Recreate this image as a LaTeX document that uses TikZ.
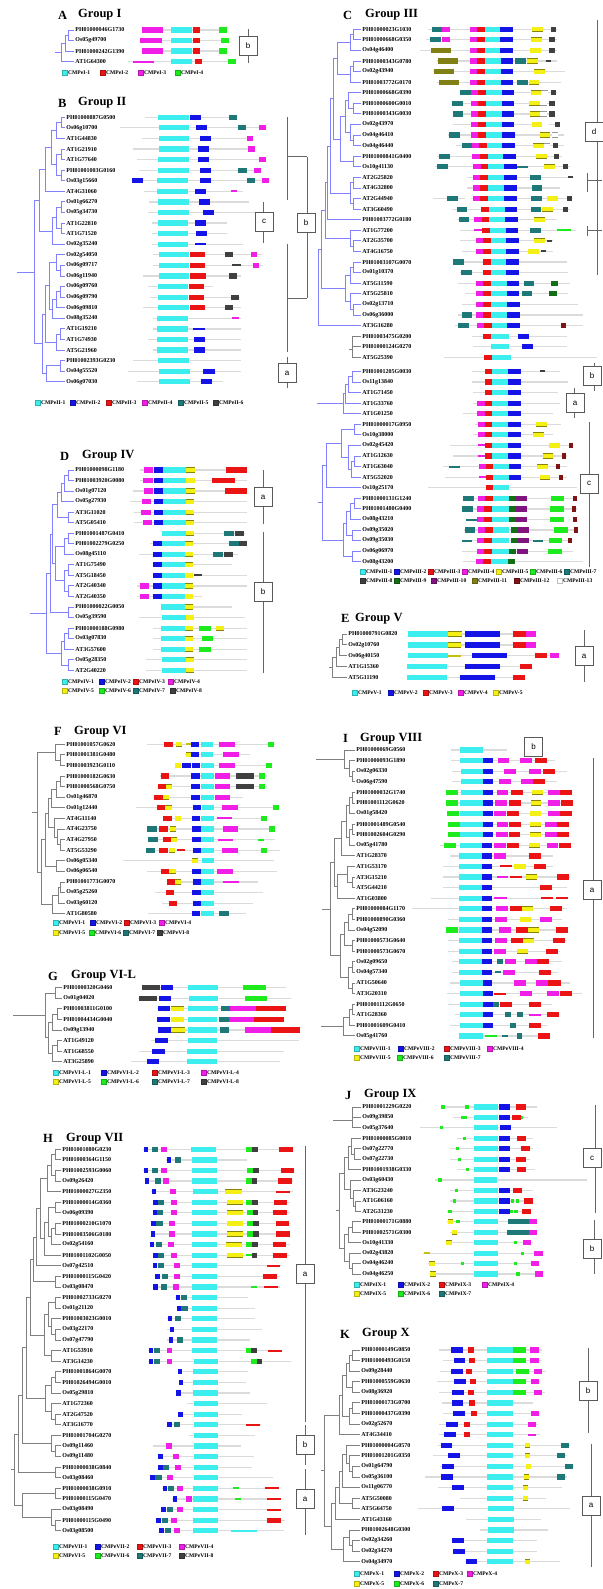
\documentclass[tikz,border=0pt]{standalone}
\usepackage{fontspec}
\setmainfont{Liberation Serif}
\setsansfont{Liberation Sans}
\usetikzlibrary{calc}
\definecolor{cC}{RGB}{60,238,238}
\definecolor{cB}{RGB}{20,20,230}
\definecolor{cR}{RGB}{235,20,20}
\definecolor{cM}{RGB}{240,30,230}
\definecolor{cG}{RGB}{30,235,30}
\definecolor{cT}{RGB}{30,120,120}
\definecolor{cK}{RGB}{64,64,64}
\definecolor{cY}{RGB}{245,240,20}
\definecolor{cO}{RGB}{128,128,20}
\definecolor{cD}{RGB}{20,110,20}
\definecolor{cP}{RGB}{128,20,128}
\definecolor{cN}{RGB}{128,20,20}
\definecolor{cW}{RGB}{255,255,255}
\definecolor{cTr}{RGB}{130,130,255}
\tikzset{
 gline/.style={draw=black!14,line width=1.2pt},
 lab/.style={anchor=west,inner sep=0.4pt,outer sep=1pt,font=\fontsize{6}{6}\selectfont\bfseries},
 trb/.style={draw=cTr,line width=0.9pt},
 trg/.style={draw=black!50,line width=0.9pt},
 brk/.style={draw=black!60,line width=1pt},
 bbox/.style={draw=black!65,fill=white,line width=0.8pt,minimum width=18pt,minimum height=19pt,inner sep=0pt,font=\sffamily\fontsize{8}{8}\selectfont},
 ttl/.style={anchor=west,inner sep=0pt,font=\fontsize{12.5}{13}\selectfont\bfseries},
 lsq/.style={minimum size=5.2pt,inner sep=0pt,line width=0.3pt},
 ltx/.style={anchor=west,inner sep=0.3pt,font=\fontsize{5.6}{6}\selectfont\bfseries},
 mc/.style={draw=cC,line width=5.2pt},
 mb/.style={draw=cB,line width=5.2pt},
 mr/.style={draw=cR,line width=5.2pt},
 mm/.style={draw=cM,line width=5.2pt},
 mg/.style={draw=cG,line width=5.2pt},
 mt/.style={draw=cT,line width=5.2pt},
 mk/.style={draw=cK,line width=5.2pt},
 my/.style={draw=cY!55!black,line width=0.5pt,double=cY,double distance=4.2pt},
 mo/.style={draw=cO,line width=5.2pt},
 md/.style={draw=cD,line width=5.2pt},
 mp/.style={draw=cP,line width=5.2pt},
 mn/.style={draw=cN,line width=5.2pt},
 mw/.style={draw=black!40,line width=0.5pt,double=white,double distance=4.2pt},
 mC/.style={draw=cC,line width=2pt},
 mB/.style={draw=cB,line width=2pt},
 mR/.style={draw=cR,line width=2pt},
 mM/.style={draw=cM,line width=2pt},
 mG/.style={draw=cG,line width=2pt},
 mT/.style={draw=cT,line width=2pt},
 mK/.style={draw=cK,line width=2pt},
 mY/.style={draw=cY!80!black,line width=2pt},
 ms/.style={draw=cG,line width=3.2pt},
}
\newcommand\G[6]{%
 \pgfmathsetmacro\curY{\rowY+#2*\rowD}%
 \draw[gline] (#4,\curY) -- (#5,\curY);%
 \foreach \mcol/\ma/\mb in {#6}{\edef\mtmp{\noexpand\draw[m\mcol]}\mtmp (\ma,\curY) -- (\mb,\curY);}%
 \node[lab] (#1) at (\labX,\curY) {#3};}
\newcommand\jn[5]{\coordinate (jx) at (#3,0);\draw[#1] (#4) -- (#4 -| jx) -- (#5 -| jx) -- (#5);\coordinate (#2) at ($(#4 -| jx)!.5!(#5 -| jx)$);}
\newcommand\stub[4]{\coordinate (jx) at (#3,0);\coordinate (#4) at (#2 -| jx);\draw[#1] (#2) -- (#4);}
\newcommand\legd[5]{\node[lsq,fill=#4,draw=#4!75!black] (#1s) at (#2+2.6,#3) {};\node[ltx] (#1) at (#2+5.6,#3) {#5};}
\begin{document}
\begin{tikzpicture}[x=1pt,y=-1pt]
\fill[white] (0,0) rectangle (602,1589);
\useasboundingbox (0,0) rectangle (602,1589);
% ================= A
\node[ttl] (TA) at (58,15) {A};\node[ttl] (TA2) at (78,15) {Group I};
\def\labX{74}\def\rowY{30}\def\rowD{10.55}
\G{A0}{0}{PH01000046G1730}{142}{227}{m/142/163,c/171/192,r/193/200,g/219/227}
\G{A1}{1}{Os05g49700}{140}{229}{m/140/162,c/171/192,r/193/200,g/221/229}
\G{A2}{2}{PH01000242G1390}{142}{227}{m/142/163,c/171/192,r/193/200,g/219/227}
\G{A3}{3}{AT1G64300}{128}{236}{M/133/154,c/171/192,r/195/202,g/228/236}
\jn{trb}{Aj1}{68}{A0}{A1}
\jn{trb}{Aj2}{65}{Aj1}{A2}
\jn{trb}{Aj3}{61}{Aj2}{A3}
\stub{trb}{Aj3}{55}{Ars}
\draw[brk] (248,29) -- (248,63); \node[bbox] (Ab) at (248,46) {b};
\legd{Al1}{62}{72.7}{cC}{CMPeI-1}\legd{Al2}{100}{72.7}{cR}{CMPeI-2}\legd{Al3}{138}{72.7}{cM}{CMPeI-3}\legd{Al4}{175}{72.7}{cG}{CMPeI-4}
% ================= B
\node[ttl] (TB) at (58,103) {B};\node[ttl] (TB2) at (78,103) {Group II};
\def\labX{65}\def\rowY{117.3}\def\rowD{10.58}
\G{B0}{0}{PH01000887G0500}{145}{237}{c/158/189,b/190/201,t/229/237}
\G{B1}{1}{Os06g10700}{120}{267}{c/159/189,b/196/207,t/238/246,m/259/266}
\G{B2}{2}{AT1G44830}{142}{253}{c/159/189,b/200/211,m/247/253}
\G{B3}{3}{AT1G21910}{133}{255}{c/159/189,b/198/209,m/248/255}
\G{B4}{4}{AT1G77640}{137}{266}{c/158/189,b/198/209,m/259/266}
\G{B5}{5}{PH01001003G0160}{139}{261}{c/158/189,b/200/211,t/238/247,m/254/261}
\G{B6}{6}{Os03g15660}{132}{269}{b/132/143,c/157/188,b/200/211,t/247/255,m/262/269}
\G{B7}{7}{AT4G31060}{144}{243}{c/157/188,b/195/206,M/231/237}
\G{B8}{8}{Os01g66270}{149}{249}{c/158/189,b/199/210}
\G{B9}{9}{Os05g34730}{148}{255}{c/158/189,b/203/214}
\G{B10}{10}{AT1G22810}{152}{227}{c/158/188,b/195/206}
\G{B11}{11}{AT1G71520}{152}{227}{c/158/188,b/196/207}
\G{B12}{12}{Os02g35240}{152}{243}{c/158/188,B/195/206}
\G{B13}{13}{Os02g54050}{153}{262}{c/159/189,r/190/205,k/225/233,m/251/257}
\G{B14}{14}{Os06g09717}{153}{263}{c/159/189,r/190/205,K/232/241,m/253/259}
\G{B15}{15}{Os06g11940}{143}{241}{c/159/189,r/190/206,k/229/237}
\G{B16}{16}{Os06g09760}{148}{213}{c/158/188,r/189/204}
\G{B17}{17}{Os06g09790}{150}{240}{c/158/188,r/189/204,k/231/239}
\G{B18}{18}{Os06g09810}{143}{241}{c/158/189,r/190/205,k/225/233}
\G{B19}{19}{Os08g35240}{153}{241}{c/157/188,M/232/239}
\G{B20}{20}{AT1G19210}{153}{241}{c/157/188,B/193/205}
\G{B21}{21}{AT1G74930}{148}{241}{c/157/188,b/194/205}
\G{B22}{22}{AT5G21960}{153}{241}{c/157/188,b/194/205}
\G{B23}{23}{PH01002393G0230}{133}{241}{c/158/189}
\G{B24}{24}{Os04g55520}{128}{241}{c/159/190,b/203/215}
\G{B25}{25}{Os06g07030}{137}{223}{c/159/190,b/201/212}
\jn{trb}{Bj1}{61}{B0}{B1}
\jn{trb}{Bj2}{56}{Bj1}{B2}
\jn{trb}{Bj3}{61}{B3}{B4}
\jn{trb}{Bj4}{61}{B5}{B6}
\jn{trb}{Bj5}{56}{Bj3}{Bj4}
\jn{trb}{Bj6}{51}{Bj2}{Bj5}
\jn{trb}{Bj7}{45}{Bj6}{B7}
\jn{trb}{Bj8}{61}{B8}{B9}
\jn{trb}{Bj9}{61}{B10}{B11}
\jn{trb}{Bj10}{56}{Bj8}{Bj9}
\jn{trb}{Bj11}{52}{Bj10}{B12}
\jn{trb}{Bj12}{39}{Bj7}{Bj11}
\jn{trb}{Bk1}{60}{B14}{B15}
\jn{trb}{Bk2}{56}{B13}{Bk1}
\jn{trb}{Bk3}{60}{B16}{B17}
\jn{trb}{Bk4}{56}{Bk3}{B18}
\jn{trb}{Bk5}{52}{Bk4}{B19}
\jn{trb}{Bk6}{49}{Bk2}{Bk5}
\jn{trb}{Bk7}{60}{B20}{B21}
\jn{trb}{Bk8}{56}{Bk7}{B22}
\jn{trb}{Bk9}{45}{Bk6}{Bk8}
\jn{trb}{Bk10}{60}{B23}{B24}
\jn{trb}{Bk11}{46}{Bk10}{B25}
\jn{trb}{Bk12}{42}{Bk9}{Bk11}
\jn{trb}{Br}{34}{Bj12}{Bk12}
\stub{trb}{Br}{17}{Brs}
\draw[brk] (287,117) -- (287,200); \draw[brk] (287,157) -- (307,157);
\draw[brk] (263,202) -- (263,243); \node[bbox] (Bc) at (264,221.5) {c};
\draw[brk] (287,244) -- (287,352); \draw[brk] (287,298) -- (307,298);
\draw[brk] (307,157) -- (307,298); \node[bbox] (Bb) at (306,223) {b};
\draw[brk] (287,357) -- (287,388); \node[bbox] (Ba) at (287,373) {a};
\legd{Bl1}{35}{402.7}{cC}{CMPeII-1}\legd{Bl2}{70}{402.7}{cB}{CMPeII-2}\legd{Bl3}{106}{402.7}{cR}{CMPeII-3}\legd{Bl4}{142}{402.7}{cM}{CMPeII-4}\legd{Bl5}{178}{402.7}{cT}{CMPeII-5}\legd{Bl6}{213}{402.7}{cK}{CMPeII-6}
% ================= D
\node[ttl] (TD) at (60,456) {D};\node[ttl] (TD2) at (82,456) {Group IV};
\def\labX{74}\def\rowY{470}\def\rowD{10.54}
\G{D0}{0}{PH01000098G1180}{140}{247}{m/144/153,b/154/163,c/163/186,y/186/195,r/226/247}
\G{D1}{1}{PH01003920G0080}{140}{247}{m/143/153,b/154/163,c/163/186,y/186/195,r/212/235}
\G{D2}{2}{Os01g07120}{133}{247}{m/144/153,b/154/163,c/163/186,y/186/195,r/225/247}
\G{D3}{3}{Os05g27930}{130}{247}{m/142/151,b/154/163,c/163/186,y/186/194}
\G{D4}{4}{AT3G11020}{134}{247}{m/141/151,b/154/163,c/163/186,y/186/194}
\G{D5}{5}{AT5G05410}{134}{247}{m/143/152,b/154/163,c/163/186,y/186/194}
\G{D6}{6}{PH01001487G0410}{162}{245}{c/162/186,y/186/194,t/224/234,k/235/244}
\G{D7}{7}{PH01002279G0250}{150}{247}{b/153/162,c/162/185,y/185/193,t/229/239,k/239/247}
\G{D8}{8}{Os08g45110}{139}{238}{b/153/162,c/162/185,y/185/193,t/213/223,k/224/233}
\G{D9}{9}{AT1G75490}{153}{232}{b/153/162,c/162/185,y/185/193}
\G{D10}{10}{AT5G18450}{153}{247}{b/153/162,c/162/185,y/185/193,K/194/202}
\G{D11}{11}{AT2G40340}{137}{247}{m/140/149,b/153/162,c/162/185,y/185/193}
\G{D12}{12}{AT2G40350}{137}{202}{m/140/149,b/153/162,c/162/185,y/185/193}
\G{D13}{13}{PH01000022G0050}{161}{232}{c/161/185,y/185/193}
\G{D14}{14}{Os05g39590}{139}{245}{c/162/186,y/186/194}
\G{D15}{15}{PH01000188G0980}{153}{247}{c/161/185,y/185/193,g/199/211,y/216/224}
\G{D16}{16}{Os03g07830}{153}{247}{c/161/185,y/185/193,g/202/213}
\G{D17}{17}{AT3G57600}{153}{247}{c/161/185,y/185/193,g/199/211}
\G{D18}{18}{Os05g28350}{146}{247}{c/162/186,y/186/194}
\G{D19}{19}{AT2G40220}{146}{247}{c/162/186,y/186/194}
\jn{trb}{Dj1}{68}{D0}{D1}
\jn{trb}{Dj2}{64}{Dj1}{D2}
\jn{trb}{Dj3}{61}{Dj2}{D3}
\jn{trb}{Dj4}{68}{D4}{D5}
\jn{trb}{Dj5}{57}{Dj3}{Dj4}
\jn{trb}{Dj6}{68}{D6}{D7}
\jn{trb}{Dj7}{64}{Dj6}{D8}
\jn{trb}{Dj8}{68}{D9}{D10}
\jn{trb}{Dj9}{68}{D11}{D12}
\jn{trb}{Dj10}{64}{Dj8}{Dj9}
\jn{trb}{Dj11}{55}{Dj7}{Dj10}
\jn{trb}{Dj12}{52}{Dj5}{Dj11}
\jn{trb}{Dj13}{68}{D13}{D14}
\jn{trb}{Dj14}{50}{Dj12}{Dj13}
\jn{trb}{Dj15}{68}{D15}{D16}
\jn{trb}{Dj16}{64}{Dj15}{D17}
\jn{trb}{Dj17}{68}{D18}{D19}
\jn{trb}{Dj18}{61}{Dj16}{Dj17}
\jn{trb}{Dr}{46}{Dj14}{Dj18}
\stub{trb}{Dr}{30}{Drs}
\draw[brk] (263,470) -- (263,524); \node[bbox] (Da) at (263,497) {a};
\draw[brk] (263,532) -- (263,673); \node[bbox] (Db) at (263,592) {b};
\legd{Dl1}{62}{681.7}{cC}{CMPeIV-1}\legd{Dl2}{99}{681.7}{cB}{CMPeIV-2}\legd{Dl3}{133}{681.7}{cR}{CMPeIV-3}\legd{Dl4}{168}{681.7}{cM}{CMPeIV-4}
\legd{Dl5}{62}{691}{cY}{CMPeIV-5}\legd{Dl6}{99}{691}{cG}{CMPeIV-6}\legd{Dl7}{133}{691}{cT}{CMPeIV-7}\legd{Dl8}{170}{691}{cK}{CMPeIV-8}
% ================= F
\node[ttl] (TF) at (54,731.7) {F};\node[ttl] (TF2) at (74,731.7) {Group VI};
\def\labX{65}\def\rowY{744.3}\def\rowD{10.59}
\G{F0}{0}{PH01001057G0620}{147}{275}{r/164/173,y/176/182,Y/186/191,b/191/199,c/201/213,m/219/235,g/268/274}
\G{F1}{1}{PH01001381G0480}{185}{250}{y/186/191,b/191/199,c/201/213,m/223/239}
\G{F2}{2}{PH01003923G0110}{175}{272}{y/175/181,b/182/191,b/192/200,c/201/214,m/219/235,g/266/272}
\G{F3}{3}{PH01000182G0630}{160}{267}{r/161/169,b/191/200,c/201/214,m/215/230,k/236/254,g/259/265}
\G{F4}{4}{PH01000568G0750}{157}{267}{r/158/166,y/166/172,b/191/200,c/201/214,m/215/230,k/236/254,g/259/265}
\G{F5}{5}{Os01g46870}{153}{243}{r/154/163,y/163/169,b/191/200,c/201/214,m/215/230}
\G{F6}{6}{Os01g12440}{136}{279}{r/157/165,y/165/172,b/193/201,c/202/214,m/222/238,g/273/279}
\G{F7}{7}{AT4G11140}{163}{267}{r/163/172,y/175/181,b/192/200,c/201/214,M/217/232,g/261/267}
\G{F8}{8}{AT4G23750}{147}{275}{t/147/157,r/159/168,y/170/176,b/192/201,c/201/214,m/223/238,g/269/275}
\G{F9}{9}{AT4G27950}{148}{275}{t/148/158,r/163/171,y/171/177,b/192/201,c/201/214,M/218/233,G/258/264}
\G{F10}{10}{AT5G53290}{146}{280}{t/146/155,r/159/168,y/169/175,R/177/185,b/193/201,c/201/214,m/222/238,g/261/267}
\G{F11}{11}{Os06g05340}{123}{274}{y/192/198,c/202/214}
\G{F12}{12}{Os06g06540}{147}{277}{r/161/169,y/169/176,b/192/201,c/201/214,m/217/233}
\G{F13}{13}{PH01001773G0070}{167}{258}{r/167/175,y/175/181,b/193/201,c/201/214,M/223/239}
\G{F14}{14}{Os05g25260}{155}{263}{r/166/174,b/192/201,c/201/214}
\G{F15}{15}{Os03g60120}{162}{253}{r/169/177,b/193/201,c/201/214}
\G{F16}{16}{AT1G80580}{148}{246}{b/192/200,c/201/214,t/219/229}
\jn{trg}{Fj1}{60}{F1}{F2}
\jn{trg}{Fj2}{55}{F0}{Fj1}
\jn{trg}{Fj3}{60}{F3}{F4}
\jn{trg}{Fj4}{56}{Fj3}{F5}
\jn{trg}{Fj5}{51}{Fj4}{F6}
\jn{trg}{Fj6}{60}{F9}{F10}
\jn{trg}{Fj7}{57}{F8}{Fj6}
\jn{trg}{Fj8}{54}{F7}{Fj7}
\jn{trg}{Fj9}{48}{Fj5}{Fj8}
\jn{trg}{Fj10}{56}{F11}{F12}
\jn{trg}{Fj11}{45}{Fj9}{Fj10}
\jn{trg}{Fj12}{60}{F13}{F14}
\jn{trg}{Fj13}{58}{Fj12}{F15}
\jn{trg}{Fj14}{52}{Fj13}{F16}
\jn{trg}{Fj15}{41}{Fj11}{Fj14}
\jn{trg}{Fr}{37}{Fj2}{Fj15}
\stub{trg}{Fr}{32}{Frs}
\legd{Fl1}{53}{923}{cC}{CMPeVI-1}\legd{Fl2}{90}{923}{cB}{CMPeVI-2}\legd{Fl3}{124}{923}{cR}{CMPeVI-3}\legd{Fl4}{159}{923}{cM}{CMPeVI-4}
\legd{Fl5}{53}{932.7}{cY}{CMPeVI-5}\legd{Fl6}{89}{932.7}{cG}{CMPeVI-6}\legd{Fl7}{123}{932.7}{cT}{CMPeVI-7}\legd{Fl8}{157}{932.7}{cK}{CMPeVI-8}
% ================= G
\node[ttl] (TG) at (48,976) {G};\node[ttl] (TG2) at (71,976) {Group VI-L};
\def\labX{62}\def\rowY{987.7}\def\rowD{10.57}
\G{G0}{0}{PH01000320G0460}{142}{286}{k/142/160,b/161/173,c/188/218,g/243/266}
\G{G1}{1}{Os01g04020}{138}{291}{k/139/157,b/159/171,c/189/218,g/245/267}
\G{G2}{2}{PH01003811G0100}{157}{286}{b/158/170,y/171/184,c/188/218,t/221/230,m/230/256,r/256/286}
\G{G3}{3}{PH01004434G0040}{157}{284}{b/157/170,y/171/184,c/188/217,t/219/229,m/229/254,r/254/284}
\G{G4}{4}{Os09g13940}{158}{300}{b/158/171,y/171/185,c/188/217,t/220/229,m/245/271,r/271/300}
\G{G5}{5}{AT1G49120}{151}{299}{b/155/168,c/188/217}
\G{G6}{6}{AT1G68550}{139}{284}{b/152/165,c/187/217}
\G{G7}{7}{AT3G25890}{131}{280}{b/147/159,c/187/217}
\jn{trg}{Gj1}{55}{G0}{G1}
\jn{trg}{Gj2}{57}{G2}{G3}
\jn{trg}{Gj3}{52}{Gj2}{G4}
\jn{trg}{Gj4}{57}{G5}{G6}
\jn{trg}{Gj5}{52}{Gj4}{G7}
\jn{trg}{Gj6}{48}{Gj3}{Gj5}
\jn{trg}{Gr}{45}{Gj1}{Gj6}
\stub{trg}{Gr}{13}{Grs}
\legd{Gl1}{53}{1072.3}{cC}{CMPeVI-L-1}\legd{Gl2}{101}{1072.3}{cB}{CMPeVI-L-2}\legd{Gl3}{152}{1072.3}{cR}{CMPeVI-L-3}\legd{Gl4}{201}{1072.3}{cM}{CMPeVI-L-4}
\legd{Gl5}{53}{1081.7}{cY}{CMPeVI-L-5}\legd{Gl6}{101}{1081.7}{cG}{CMPeVI-L-6}\legd{Gl7}{152}{1081.7}{cT}{CMPeVI-L-7}\legd{Gl8}{201}{1081.7}{cK}{CMPeVI-L-8}
% ================= H
\node[ttl] (TH) at (43,1138.3) {H};\node[ttl] (TH2) at (66,1138.3) {Group VII};
\def\labX{61}\def\rowY{1149.3}\def\rowD{10.594}
\G{H0}{0}{PH01001080G0230}{143}{293}{b/144/148,t/152/158,m/161/167,c/191/216,g/246/252,k/252/258,r/279/293}
\G{H1}{1}{PH01000364G1150}{166}{247}{b/167/171,t/175/181,c/192/217}
\G{H2}{2}{PH01002593G0060}{143}{295}{b/144/148,t/152/158,m/161/167,c/192/217,g/247/253,k/253/259,r/281/294}
\G{H3}{3}{Os09g26420}{145}{293}{b/145/149,t/155/161,m/163/169,c/192/217,g/246/252,k/252/257,r/278/292}
\G{H4}{4}{PH01000027G2350}{151}{293}{b/152/156,m/170/176,c/193/218,y/225/242,R/276/290}
\G{H5}{5}{PH01000014G0360}{153}{290}{b/153/158,t/158/164,m/171/177,c/192/217,y/227/243,g/246/252,k/252/258,r/274/287}
\G{H6}{6}{Os06g09390}{153}{290}{b/153/157,t/157/163,m/171/177,c/192/217,y/227/243,g/247/253,k/253/258,r/273/287}
\G{H7}{7}{PH01000210G1070}{151}{290}{b/151/156,t/156/163,m/169/175,c/192/217,y/227/243,g/247/253,k/253/259,r/276/289}
\G{H8}{8}{PH01003506G0180}{151}{290}{b/151/155,m/169/175,c/192/217,y/227/243,g/247/253,k/253/259,r/276/290}
\G{H9}{9}{Os02g54160}{150}{290}{b/150/154,t/156/162,m/168/174,c/192/217,y/226/242,g/246/252,k/252/258,r/273/286}
\G{H10}{10}{PH01001102G0050}{153}{290}{b/153/158,t/158/164,m/171/177,c/192/217,y/227/243,G/246/252,k/252/257,r/273/287}
\G{H11}{11}{Os07g42510}{153}{282}{b/153/157,t/158/164,m/174/180,c/192/217,R/267/280}
\G{H12}{12}{PH01000115G0420}{155}{280}{b/155/160,t/162/168,m/174/180,c/192/217,r/263/277}
\G{H13}{13}{Os03g08470}{153}{280}{b/153/158,t/161/167,m/173/179,c/192/217,G/251/257,R/264/278}
\G{H14}{14}{PH01002733G0270}{175}{248}{b/176/180,t/181/187,c/192/217}
\G{H15}{15}{Os01g21120}{177}{255}{b/177/181,t/181/188,c/192/217}
\G{H16}{16}{PH01003023G0010}{167}{255}{b/168/172,t/175/181,c/192/217}
\G{H17}{17}{Os03g22170}{167}{262}{b/170/174,c/192/217}
\G{H18}{18}{Os07g47790}{167}{250}{b/169/173,t/177/183,c/192/217}
\G{H19}{19}{AT1G53910}{148}{282}{b/149/153,t/154/160,m/167/172,c/192/217,g/246/251,k/251/257,R/268/282}
\G{H20}{20}{AT3G14230}{148}{291}{b/149/153,t/154/160,m/167/172,c/194/218,g/251/257,k/257/262}
\G{H21}{21}{PH01001864G0070}{178}{248}{b/178/182,c/193/218}
\G{H22}{22}{PH01026494G0010}{179}{246}{b/179/183,c/193/218}
\G{H23}{23}{Os05g29810}{176}{250}{b/176/181,c/193/218}
\G{H24}{24}{AT1G72360}{187}{267}{c/194/218}
\G{H25}{25}{AT2G47520}{178}{242}{b/178/183,c/194/218}
\G{H26}{26}{AT3G16770}{167}{261}{b/167/172,t/174/180,c/194/218,R/246/260}
\G{H27}{27}{PH01001704G0270}{189}{255}{c/194/218}
\G{H28}{28}{Os09g11460}{153}{241}{m/166/172,c/194/218}
\G{H29}{29}{Os09g11480}{158}{254}{b/158/163,m/173/179,c/194/218}
\G{H30}{30}{PH01000038G0840}{158}{252}{b/158/163,t/163/169,m/175/181,c/194/218}
\G{H31}{31}{Os03g08460}{150}{273}{b/150/155,t/155/162,m/167/173,c/194/218}
\G{H32}{32}{PH01000038G0910}{162}{278}{b/163/167,t/168/174,m/177/183,c/193/218,G/233/239,R/265/279}
\G{H33}{33}{PH01000115G0470}{172}{281}{b/173/177,m/186/192,c/193/218,G/235/241,R/267/281}
\G{H34}{34}{Os03g08490}{161}{281}{b/161/166,t/167/173,m/177/183,c/193/218,R/267/281}
\G{H35}{35}{PH01000115G0490}{156}{285}{b/156/161,t/162/168,m/171/177,c/193/218,r/267/281}
\G{H36}{36}{Os03g08500}{159}{284}{b/159/164,t/165/171,m/174/180,c/193/218,C/231/257}
\jn{trg}{Hj1}{55}{H0}{H1}
\jn{trg}{Hj2}{55}{H2}{H3}
\jn{trg}{Hj3}{51}{Hj1}{Hj2}
\jn{trg}{Hj4}{47}{Hj3}{H4}
\jn{trg}{Hj5}{55}{H5}{H6}
\jn{trg}{Hj6}{55}{H7}{H8}
\jn{trg}{Hj7}{51}{Hj6}{H9}
\jn{trg}{Hj8}{48}{Hj5}{Hj7}
\jn{trg}{Hj9}{44}{Hj8}{H10}
\jn{trg}{Hj10}{40}{Hj4}{Hj9}
\jn{trg}{Hj11}{36}{Hj10}{H11}
\jn{trg}{Hj12}{55}{H12}{H13}
\jn{trg}{Hj13}{33}{Hj11}{Hj12}
\jn{trg}{Hj14}{55}{H14}{H15}
\jn{trg}{Hj15}{55}{H17}{H18}
\jn{trg}{Hj16}{51}{H16}{Hj15}
\jn{trg}{Hj17}{48}{Hj14}{Hj16}
\jn{trg}{Hj18}{51}{H19}{H20}
\jn{trg}{Hj19}{44}{Hj17}{Hj18}
\jn{trg}{Hj20}{30}{Hj13}{Hj19}
\jn{trg}{Hj21}{55}{H21}{H22}
\jn{trg}{Hj22}{51}{Hj21}{H23}
\jn{trg}{Hj23}{55}{H25}{H26}
\jn{trg}{Hj24}{51}{H24}{Hj23}
\jn{trg}{Hj25}{45}{Hj22}{Hj24}
\jn{trg}{Hj26}{26}{Hj20}{Hj25}
\jn{trg}{Hj27}{55}{H28}{H29}
\jn{trg}{Hj28}{51}{H27}{Hj27}
\jn{trg}{Hj29}{22}{Hj26}{Hj28}
\jn{trg}{Hj30}{55}{H30}{H31}
\jn{trg}{Hj31}{18}{Hj29}{Hj30}
\jn{trg}{Hj32}{55}{H32}{H33}
\jn{trg}{Hj33}{55}{H35}{H36}
\jn{trg}{Hj34}{51}{H34}{Hj33}
\jn{trg}{Hj35}{22}{Hj32}{Hj34}
\jn{trg}{Hr}{14}{Hj31}{Hj35}
\stub{trg}{Hr}{11}{Hrs}
\draw[brk] (305,1146) -- (305,1422); \node[bbox] (Ha) at (305,1274) {a};
\draw[brk] (305,1425) -- (305,1465); \node[bbox] (Hb) at (305,1445) {b};
\draw[brk] (305,1469) -- (305,1535); \node[bbox] (Ha2) at (305,1499) {a};
\legd{Hl1}{53}{1546.5}{cC}{CMPeVII-1}\legd{Hl2}{95}{1546.5}{cB}{CMPeVII-2}\legd{Hl3}{137}{1546.5}{cR}{CMPeVII-3}\legd{Hl4}{179}{1546.5}{cM}{CMPeVII-4}
\legd{Hl5}{53}{1555.5}{cY}{CMPeVI-5}\legd{Hl6}{95}{1555.5}{cG}{CMPeVII-6}\legd{Hl7}{137}{1555.5}{cT}{CMPeVII-7}\legd{Hl8}{179}{1555.5}{cK}{CMPeVII-8}
% ================= C
\node[ttl] (TC) at (343,15) {C};\node[ttl] (TC2) at (365,15) {Group III};
\def\labX{361}\def\rowY{29.3}\def\rowD{10.58}
\G{C0}{0}{PH01000023G1030}{428}{557}{t/432/442,m/442/450,m/470/477,r/477/485,c/485/500,b/500/513,y/532/543,k/551/556}
\G{C1}{1}{PH01000668G0350}{426}{557}{t/430/441,m/442/450,m/470/477,r/477/485,c/485/500,b/500/513,y/531/542,k/549/555}
\G{C2}{2}{Os04g46400}{420}{557}{o/431/451,m/470/477,r/477/485,c/485/500,b/500/513,y/530/541,k/549/555}
\G{C3}{3}{PH01000343G0780}{437}{557}{o/438/458,m/470/477,r/477/485,c/485/501,b/501/513,t/515/526,y/527/538,K/546/551}
\G{C4}{4}{Os02g43940}{433}{565}{o/434/454,m/470/477,r/477/485,c/485/501,b/501/513,y/534/545}
\G{C5}{5}{PH01003772G0170}{437}{561}{o/439/459,m/470/477,r/477/485,c/485/501,b/501/513,t/517/528,y/529/539}
\G{C6}{6}{PH01000668G0390}{460}{557}{t/460/471,m/471/478,r/478/486,c/486/502,b/502/514,y/531/541,w/541/548,k/551/556}
\G{C7}{7}{PH01000600G0010}{452}{555}{t/452/463,m/471/478,r/478/486,c/486/502,b/502/514,y/529/540,w/540/547,k/549/555}
\G{C8}{8}{PH01000343G0030}{453}{555}{t/453/463,m/471/478,r/478/486,c/486/502,b/502/514,y/530/540,w/540/547,k/549/555}
\G{C9}{9}{Os02g43970}{453}{560}{m/471/478,r/478/486,c/486/502,b/502/514,y/532/542,w/542/549,k/555/560}
\G{C10}{10}{Os04g46410}{448}{564}{t/449/460,m/471/478,r/478/486,c/486/502,b/502/515,y/540/550,w/552/558}
\G{C11}{11}{Os04g46440}{456}{564}{t/462/472,m/472/479,r/479/487,c/487/502,b/502/515,y/533/544,w/544/550,k/553/558}
\G{C12}{12}{PH01000841G0400}{437}{562}{t/439/450,m/472/480,r/480/488,c/488/503,b/503/516,y/536/547,k/554/559}
\G{C13}{13}{Os10g41130}{435}{570}{t/437/448,m/473/481,r/481/488,c/488/504,b/504/517,T/517/528,y/544/555,k/563/568}
\G{C14}{14}{AT2G25820}{467}{573}{m/473/480,r/480/488,c/488/504,b/504/517,t/530/541,K/568/573}
\G{C15}{15}{AT4G32800}{467}{560}{m/473/480,r/480/488,c/488/504,b/504/517,t/532/542}
\G{C16}{16}{AT2G44940}{433}{573}{t/447/458,w/465/471,m/473/480,r/480/488,c/488/504,b/504/517,t/531/542,y/547/558,k/567/572}
\G{C17}{17}{AT3G60490}{453}{570}{t/457/467,r/481/489,c/489/505,b/505/517,t/531/541,y/542/553,k/563/568}
\G{C18}{18}{PH01003772G0180}{457}{557}{t/459/469,m/474/482,r/482/489,c/489/505,b/505/518,y/534/545}
\G{C19}{19}{AT1G77200}{460}{576}{M/474/482,r/482/490,c/490/506,b/506/518,t/530/541,G/557/571}
\G{C20}{20}{AT2G35700}{460}{553}{m/476/483,r/483/491,c/491/506,b/506/519,y/534/545,K/547/552}
\G{C21}{21}{AT4G16750}{462}{553}{m/476/483,r/483/491,c/491/506,b/506/519,y/528/539,K/541/546}
\G{C22}{22}{PH01003107G0070}{453}{567}{t/453/464,r/483/491,c/491/506,b/506/519}
\G{C23}{23}{Os01g10370}{460}{568}{t/461/472,r/483/491,c/491/506,b/506/519}
\G{C24}{24}{AT5G11590}{458}{570}{m/476/483,r/483/491,c/491/507,b/507/519,t/524/534,d/551/558}
\G{C25}{25}{AT5G25810}{465}{568}{m/476/483,r/483/491,c/491/507,b/507/519,t/522/532,d/549/557}
\G{C26}{26}{Os02g13710}{462}{578}{m/476/483,r/483/491,c/491/507,b/507/520}
\G{C27}{27}{Os06g36000}{458}{583}{t/462/472,m/476/483,r/483/491,c/491/507,b/507/520}
\G{C28}{28}{AT3G16280}{455}{583}{t/458/469,m/477/484,r/484/492,c/492/507,b/507/520,n/561/566}
\G{C29}{29}{PH01003475G0200}{472}{567}{r/483/491,c/491/509,b/518/529}
\G{C30}{30}{PH01000124G0270}{473}{567}{c/491/509,b/522/533}
\G{C31}{31}{AT5G25390}{444}{597}{r/484/492,c/492/511}
\def\rowY{32.82}
\G{C32}{32}{PH01001205G0030}{472}{560}{r/485/492,c/492/508,b/508/521,K/540/545}
\G{C33}{33}{Os11g13840}{472}{568}{r/485/492,c/492/508,b/508/521}
\G{C34}{34}{AT1G71450}{473}{558}{r/485/492,c/492/508,b/508/521}
\G{C35}{35}{AT1G33760}{473}{560}{m/477/485,r/485/492,c/492/508,b/508/521}
\G{C36}{36}{AT1G01250}{463}{553}{m/477/485,r/485/492,c/492/508,b/508/521}
\G{C37}{37}{PH01000017G0950}{475}{561}{m/478/485,r/485/492,c/492/508,b/508/521,y/536/547}
\G{C38}{38}{Os10g38000}{473}{553}{m/478/485,r/485/492,c/492/508,b/508/521,y/533/544}
\G{C39}{39}{Os02g45420}{450}{573}{M/478/485,r/485/492,c/492/508,b/508/521,y/549/560,n/569/573}
\G{C40}{40}{AT1G12630}{453}{567}{M/478/485,r/485/492,c/492/508,b/508/521,y/543/553,n/562/566}
\G{C41}{41}{AT1G63040}{443}{567}{T/449/460,m/479/486,r/486/493,c/493/509,b/509/521,y/537/548,n/556/560}
\G{C42}{42}{AT5G52020}{445}{567}{M/479/486,r/486/493,c/493/509,b/509/521,y/540/550,n/559/563}
\G{C43}{43}{Os10g25170}{428}{577}{r/486/493,c/493/509}
\G{C44}{44}{PH01000131G1240}{463}{577}{t/463/474,m/478/485,r/485/493,c/493/509,d/509/516,p/516/527,g/551/564,n/573/577}
\G{C45}{45}{PH01001480G0400}{462}{577}{t/462/473,m/477/484,r/484/492,c/492/509,d/509/516,p/516/527,g/550/564,n/572/576}
\G{C46}{46}{Os08g43210}{466}{570}{T/466/477,m/477/484,r/484/492,c/492/509,d/509/516,p/516/527,g/550/564,w/564/569,n/573/577}
\G{C47}{47}{Os09g35020}{464}{578}{t/465/475,m/478/485,r/485/493,c/493/509,d/511/518,p/518/529,g/554/568,n/574/578}
\G{C48}{48}{Os09g35030}{462}{572}{T/462/472,m/477/484,r/484/492,c/492/509,d/511/518,p/518/529,T/533/543,g/549/562,n/568/572}
\G{C49}{49}{Os06g06970}{462}{573}{m/477/484,r/484/492,c/492/509,d/509/516,p/517/528,g/548/562}
\G{C50}{50}{Os08g43200}{463}{583}{m/476/483,r/483/491,c/491/508,d/508/515}
\jn{trb}{Cj1}{353}{C0}{C1}
\jn{trb}{Cj2}{350}{Cj1}{C2}
\jn{trb}{Cj3}{353}{C3}{C4}
\jn{trb}{Cj4}{350}{Cj3}{C5}
\jn{trb}{Cj5}{337}{Cj2}{Cj4}
\jn{trb}{Cj6}{353}{C7}{C8}
\jn{trb}{Cj7}{348}{C6}{Cj6}
\jn{trb}{Cj8}{353}{C10}{C11}
\jn{trb}{Cj9}{350}{C9}{Cj8}
\jn{trb}{Cj10}{345}{Cj7}{Cj9}
\jn{trb}{Cj11}{353}{C12}{C13}
\jn{trb}{Cj12}{340}{Cj10}{Cj11}
\jn{trb}{Cj13}{333}{Cj5}{Cj12}
\jn{trb}{Cj14}{353}{C14}{C15}
\jn{trb}{Cj15}{353}{C16}{C17}
\jn{trb}{Cj16}{350}{Cj14}{Cj15}
\jn{trb}{Cj17}{330}{Cj13}{Cj16}
\jn{trb}{Cj18}{327}{Cj17}{C18}
\jn{trb}{Cj19}{353}{C20}{C21}
\jn{trb}{Cj20}{350}{C19}{Cj19}
\jn{trb}{Cj21}{325}{Cj18}{Cj20}
\jn{trb}{Cj22}{353}{C22}{C23}
\jn{trb}{Cj23}{350}{Cj22}{C24}
\jn{trb}{Cj24}{353}{C26}{C27}
\jn{trb}{Cj25}{350}{C25}{Cj24}
\jn{trb}{Cj26}{345}{Cj23}{Cj25}
\jn{trb}{Cj27}{321}{Cj21}{Cj26}
\jn{trb}{Cr}{318}{Cj27}{C28}
\jn{trg}{Ce1}{352}{C29}{C30}
\jn{trg}{Ce2}{352}{Ce1}{C31}
\stub{trg}{Ce2}{349}{Ces}
\jn{trb}{Ca1}{352}{C32}{C33}
\jn{trb}{Ca2}{348}{Ca1}{C34}
\jn{trb}{Ca3}{345}{Ca2}{C35}
\jn{trb}{Ca4}{343}{Ca3}{C36}
\stub{trb}{Ca4}{317}{Cas}
\jn{trb}{Ck1}{354}{C37}{C38}
\jn{trb}{Ck2}{354}{C40}{C41}
\jn{trb}{Ck3}{351}{Ck2}{C42}
\jn{trb}{Ck4}{348}{C39}{Ck3}
\jn{trb}{Ck5}{341}{Ck1}{Ck4}
\jn{trb}{Ck6}{326}{Ck5}{C43}
\jn{trb}{Ck7}{354}{C44}{C45}
\jn{trb}{Ck8}{350}{Ck7}{C46}
\jn{trb}{Ck9}{352}{C47}{C48}
\jn{trb}{Ck10}{346}{Ck8}{Ck9}
\jn{trb}{Ck11}{352}{C49}{C50}
\jn{trb}{Ck12}{343}{Ck10}{Ck11}
\jn{trb}{Ckr}{322}{Ck6}{Ck12}
\stub{trb}{Ckr}{318}{Cks}
\draw[brk] (597,20) -- (597,275); \node[bbox] (Cd) at (594,132) {d};
\draw[brk] (587,173) -- (587,192); \draw[brk] (587,181) -- (602,181);
\draw[brk] (587,226) -- (587,236); \draw[brk] (587,231) -- (602,231);
\draw[brk] (594,363) -- (594,391); \node[bbox] (Cb) at (592,376) {b};
\draw[brk] (574,388) -- (574,418); \node[bbox] (Caa) at (575,403) {a};
\draw[brk] (589,422) -- (589,567); \node[bbox] (Cc) at (589,483.5) {c};
\legd{Cl1}{360}{571.5}{cC}{CMPeIII-1}\legd{Cl2}{394}{571.5}{cB}{CMPeIII-2}\legd{Cl3}{428}{571.5}{cR}{CMPeIII-3}\legd{Cl4}{462}{571.5}{cM}{CMPeIII-4}\legd{Cl5}{496}{571.5}{cY}{CMPeIII-5}\legd{Cl6}{530}{571.5}{cG}{CMPeIII-6}\legd{Cl7}{564}{571.5}{cT}{CMPeIII-7}
\legd{Cl8}{360}{581}{cK}{CMPeIII-8}\legd{Cl9}{394}{581}{cD}{CMPeIII-9}\legd{Cl10}{431}{581}{cP}{CMPeIII-10}\legd{Cl11}{472}{581}{cO}{CMPeIII-11}\legd{Cl12}{514}{581}{cN}{CMPeIII-12}\legd{Cl13}{557}{581}{cW}{CMPeIII-13}
% ================= E
\node[ttl] (TE) at (341,618.3) {E};\node[ttl] (TE2) at (355,618.3) {Group V};
\def\labX{347}\def\rowY{634}\def\rowD{10.93}
\G{E0}{0}{PH01000791G0820}{408}{536}{c/408/448,y/448/462,b/465/500,r/513/526,m/526/536}
\G{E1}{1}{Os02g10760}{408}{536}{c/408/448,y/448/461,b/465/500,r/513/526,m/526/536}
\G{E2}{2}{Os06g40150}{408}{559}{c/408/448,Y/448/461,b/472/507,r/535/547,m/550/559}
\G{E3}{3}{AT1G15360}{407}{532}{c/407/447,b/465/500,r/520/532}
\G{E4}{4}{AT5G11190}{407}{525}{c/407/447,b/460/495,r/513/525}
\jn{trg}{Ej1}{342}{E0}{E1}
\jn{trg}{Ej2}{339}{Ej1}{E2}
\jn{trg}{Ej3}{336}{Ej2}{E3}
\jn{trg}{Er}{332}{Ej3}{E4}
\stub{trg}{Er}{329}{Ers}
\draw[brk] (584,630) -- (584,682); \node[bbox] (Ea) at (584,656) {a};
\legd{El1}{352}{692.7}{cC}{CMPeV-1}\legd{El2}{388}{692.7}{cB}{CMPeV-2}\legd{El3}{423}{692.7}{cR}{CMPeV-3}\legd{El4}{458}{692.7}{cM}{CMPeV-4}\legd{El5}{493}{692.7}{cY}{CMPeV-5}
% ================= I
\node[ttl] (TI) at (343,738.3) {I};\node[ttl] (TI2) at (360,738.3) {Group VIII};
\def\labX{355}\def\rowY{750}\def\rowD{10.59}
\G{I0}{0}{PH01000069G0560}{451}{507}{c/460/483}
\G{I1}{1}{PH01000093G1890}{451}{555}{c/460/483,b/483/493,m/498/509,m/520/532,r/535/547}
\G{I2}{2}{Os02g06330}{452}{567}{c/461/483,b/483/493,m/504/516,m/529/541,r/543/555}
\G{I3}{3}{Os06g47590}{452}{557}{c/461/483,b/483/493,m/499/511,m/521/533,r/533/545}
\G{I4}{4}{PH01000032G1740}{446}{573}{g/446/458,c/461/483,b/483/493,m/497/508,r/511/523,y/532/543,m/548/560,r/560/572}
\G{I5}{5}{PH01001112G0620}{446}{573}{g/446/458,c/460/483,b/483/493,m/495/507,r/509/521,y/531/541,m/548/560,r/561/573}
\G{I6}{6}{Os01g58420}{447}{572}{g/447/459,c/460/483,b/483/493,m/494/506,r/507/519,y/530/541,m/548/560,r/560/572}
\G{I7}{7}{PH01001489G0540}{448}{569}{g/448/460,c/460/483,b/483/493,m/497/508,r/509/521,y/530/541,m/545/557,r/557/569}
\G{I8}{8}{PH01002604G0290}{448}{569}{g/448/460,c/460/483,b/483/493,m/496/508,r/509/520,y/530/541,m/545/557,r/557/569}
\G{I9}{9}{Os05g41780}{440}{571}{g/444/456,c/460/482,b/482/492,m/494/506,r/507/519,y/529/540,m/547/558,r/559/571}
\G{I10}{10}{AT1G28370}{450}{553}{c/459/482,b/482/492,m/494/506,r/529/541}
\G{I11}{11}{AT1G53170}{443}{553}{c/459/482,b/482/492,R/500/512,y/514/526,r/534/546}
\G{I12}{12}{AT3G15210}{443}{570}{c/459/482,b/482/492,M/497/508,R/510/522,y/526/537,r/557/569}
\G{I13}{13}{AT5G44210}{443}{567}{c/459/482,b/482/492,r/540/552}
\G{I14}{14}{AT1G03800}{431}{568}{c/459/482,b/482/492,M/494/507,R/541/553,R/556/568}
\G{I15}{15}{PH01000084G1170}{412}{567}{c/459/482,b/482/492,m/496/508,r/510/522,y/522/533,r/550/562}
\G{I16}{16}{PH01000890G0360}{448}{562}{c/459/482,b/482/492,m/495/507,y/520/531,m/540/552}
\G{I17}{17}{Os04g52090}{446}{568}{g/446/458,c/459/482,b/482/492,m/499/511,r/516/528,y/528/539,r/556/568}
\G{I18}{18}{PH01000573G0640}{448}{567}{c/459/482,b/482/492,m/495/507,r/511/523,y/523/534,r/553/565}
\G{I19}{19}{PH01000573G0670}{448}{560}{c/459/482,b/482/492,m/494/506,y/517/528,r/546/558}
\G{I20}{20}{Os02g09650}{452}{562}{c/459/482,b/482/492,t/497/503,m/505/516,m/525/537,r/537/549}
\G{I21}{21}{Os04g57340}{452}{558}{c/459/482,b/482/492,T/495/501,m/503/515,r/539/551}
\G{I22}{22}{AT1G50640}{450}{570}{c/460/483,b/483/492,m/514/526,m/536/548,r/548/561}
\G{I23}{23}{AT3G20310}{447}{582}{c/460/483,b/483/493,R/494/506,m/520/532,m/547/559,r/560/572}
\G{I24}{24}{PH01001112G0650}{448}{552}{c/460/483,b/483/493,t/493/499,r/500/512,r/529/541}
\G{I25}{25}{AT1G28360}{455}{560}{c/460/483,b/483/493,t/505/511,t/517/523,M/529/541,r/547/559}
\G{I26}{26}{PH01001609G0410}{450}{547}{c/460/483,b/483/493,t/510/516,r/529/541}
\G{I27}{27}{Os05g41760}{459}{550}{c/459/483,G/485/497,T/502/508,t/517/522,r/538/550}
\jn{trg}{Ij1}{352}{I2}{I3}
\jn{trg}{Ij2}{349}{I1}{Ij1}
\jn{trg}{Ij3}{344}{I0}{Ij2}
\stub{trg}{Ij3}{316}{Ij3s}
\jn{trg}{Ij4}{352}{I4}{I5}
\jn{trg}{Ij5}{349}{Ij4}{I6}
\jn{trg}{Ij6}{352}{I7}{I8}
\jn{trg}{Ij7}{349}{Ij6}{I9}
\jn{trg}{Ij8}{346}{Ij5}{Ij7}
\jn{trg}{Ij9}{341}{Ij8}{I10}
\jn{trg}{Ij10}{352}{I12}{I13}
\jn{trg}{Ij11}{347}{I11}{Ij10}
\jn{trg}{Ij12}{337}{Ij11}{I14}
\jn{trg}{Ij13}{334}{Ij9}{Ij12}
\jn{trg}{Ij14}{352}{I15}{I16}
\jn{trg}{Ij15}{348}{Ij14}{I17}
\jn{trg}{Ij16}{352}{I18}{I19}
\jn{trg}{Ij17}{344}{Ij15}{Ij16}
\jn{trg}{Ij18}{352}{I20}{I21}
\jn{trg}{Ij19}{352}{I22}{I23}
\jn{trg}{Ij20}{348}{Ij18}{Ij19}
\jn{trg}{Ij21}{340}{Ij17}{Ij20}
\jn{trg}{Ij22}{330}{Ij13}{Ij21}
\stub{trg}{Ij22}{322}{Ij22s}
\jn{trg}{Ij23}{352}{I24}{I25}
\jn{trg}{Ij24}{349}{Ij23}{I26}
\jn{trg}{Ij25}{343}{Ij24}{I27}
\stub{trg}{Ij25}{321}{Ij25s}
\node[bbox] (Ib) at (533.5,747) {b};
\draw[brk] (593,758) -- (593,1038); \node[bbox] (Ia) at (592,890) {a};
\legd{Il1}{354}{1048.3}{cC}{CMPeVIII-1}\legd{Il2}{398}{1048.3}{cB}{CMPeVIII-2}\legd{Il3}{444}{1048.3}{cR}{CMPeVIII-3}\legd{Il4}{487}{1048.3}{cM}{CMPeVIII-4}
\legd{Il5}{354}{1057.3}{cY}{CMPeVIII-5}\legd{Il6}{397}{1057.3}{cG}{CMPeVIII-6}\legd{Il7}{444}{1057.3}{cT}{CMPeVIII-7}
% ================= J
\node[ttl] (TJ) at (345,1095) {J};\node[ttl] (TJ2) at (364,1095) {Group IX};
\def\labX{361}\def\rowY{1107}\def\rowD{10.44}
\G{J0}{0}{PH01001229G0220}{442}{537}{s/441/445,s/465/469,c/474/498,b/499/510,r/516/526}
\G{J1}{1}{Os09g39850}{453}{528}{s/461/467,c/474/498,b/499/510,r/512/521,s/521/523}
\G{J2}{2}{Os05g37640}{420}{557}{s/440/443,c/474/498,b/500/511}
\G{J3}{3}{PH01000085G0010}{457}{533}{s/463/466,c/474/498,b/499/510,r/517/526}
\G{J4}{4}{Os07g22770}{450}{533}{s/456/459,c/474/498,b/499/510,r/521/530}
\G{J5}{5}{Os07g22730}{450}{530}{s/458/461,c/474/498,b/499/510,r/516/526}
\G{J6}{6}{PH01001938G0330}{457}{535}{s/466/469,c/474/498,b/499/510,r/517/526}
\G{J7}{7}{Os03g60430}{435}{587}{s/438/442,c/474/497}
\G{J8}{8}{AT3G23240}{450}{533}{s/455/458,c/474/498,b/499/510,r/513/522}
\G{J9}{9}{AT1G06160}{450}{533}{s/453/456,c/474/498,b/499/510,s/511/514,s/516/519,r/524/533}
\G{J10}{10}{AT2G31230}{447}{530}{s/448/452,c/474/498,b/499/510,s/510/513,s/514/518,r/522/531}
\G{J11}{11}{PH01000171G0880}{447}{537}{y/448/453,s/456/460,c/474/498,t/508/529,m/529/537}
\G{J12}{12}{PH01002571G0300}{450}{537}{y/452/457,c/474/498,t/507/529,m/529/537}
\G{J13}{13}{Os10g41330}{446}{533}{y/446/452,c/474/498,s/514/517,m/523/531}
\G{J14}{14}{Os02g43820}{423}{543}{Y/424/430,c/474/498,s/521/524,m/534/543}
\G{J15}{15}{Os04g46240}{428}{539}{y/429/435,s/461/464,c/474/498,s/514/517,m/531/539}
\G{J16}{16}{Os04g46250}{430}{543}{y/430/436,c/474/498,s/516/520,m/535/543}
\jn{trg}{Jj1}{352}{J0}{J1}
\jn{trg}{Jj2}{352}{Jj1}{J2}
\stub{trg}{Jj2}{333}{Jj2s}
\jn{trg}{Jj3}{354}{J4}{J5}
\jn{trg}{Jj4}{351}{J3}{Jj3}
\jn{trg}{Jj5}{348}{Jj4}{J6}
\jn{trg}{Jj6}{355}{J9}{J10}
\jn{trg}{Jj7}{353}{J8}{Jj6}
\jn{trg}{Jj8}{350}{J7}{Jj7}
\jn{trg}{Jj9}{344}{Jj5}{Jj8}
\jn{trg}{Jj10}{352}{J11}{J12}
\jn{trg}{Jj11}{348}{Jj10}{J13}
\jn{trg}{Jj12}{352}{J15}{J16}
\jn{trg}{Jj13}{349}{J14}{Jj12}
\jn{trg}{Jj14}{344}{Jj11}{Jj13}
\jn{trg}{Jr}{339}{Jj9}{Jj14}
\stub{trg}{Jr}{336}{Jrs}
\draw[brk] (595,1105) -- (595,1213); \node[bbox] (Jc) at (592,1158) {c};
\draw[brk] (594,1220) -- (594,1274); \node[bbox] (Jb) at (592,1248.5) {b};
\legd{Jl1}{354}{1285}{cC}{CMPeIX-1}\legd{Jl2}{398}{1285}{cB}{CMPeIX-2}\legd{Jl3}{439}{1285}{cR}{CMPeIX-3}\legd{Jl4}{482}{1285}{cM}{CMPeIX-4}
\legd{Jl5}{354}{1294}{cY}{CMPeIX-5}\legd{Jl6}{398}{1294}{cG}{CMPeIX-6}\legd{Jl7}{439}{1294}{cT}{CMPeIX-7}
% ================= K
\node[ttl] (TK) at (340,1334) {K};\node[ttl] (TK2) at (362,1334) {Group X};
\def\labX{360}\def\rowY{1350}\def\rowD{10.585}
\G{K0}{0}{PH01000149G0850}{439}{542}{b/451/463,r/468/474,c/487/513,g/513/526,m/530/539}
\G{K1}{1}{PH01000493G0150}{443}{542}{b/454/465,r/469/475,c/487/513,g/513/526,m/530/539}
\G{K2}{2}{Os09g28440}{440}{546}{b/451/463,r/466/472,c/487/513,g/516/529,m/534/542}
\G{K3}{3}{PH01000559G0630}{437}{540}{b/454/466,r/470/476,c/487/513,g/513/526,m/531/539}
\G{K4}{4}{Os08g36920}{439}{545}{b/452/464,r/468/474,c/487/513,g/513/526,m/534/542}
\G{K5}{5}{PH01000173G0700}{442}{533}{b/452/463,r/469/475,c/487/513}
\G{K6}{6}{PH01000437G0390}{443}{540}{b/453/465,r/471/477,c/487/513,m/531/539}
\G{K7}{7}{Os02g52670}{439}{538}{b/446/458,r/464/470,c/487/513,m/528/536}
\G{K8}{8}{AT4G34410}{439}{540}{b/444/456,r/464/470,c/487/513,M/528/536}
\G{K9}{9}{PH01000004G0570}{438}{570}{b/441/452,c/487/513,y/525/530,t/561/569}
\G{K10}{10}{PH01001201G0350}{433}{567}{b/448/460,c/487/513,y/525/530,t/557/565}
\G{K11}{11}{Os01g64790}{440}{574}{b/442/454,c/487/513,y/526/531,t/565/573}
\G{K12}{12}{Os05g36100}{425}{567}{b/441/453,c/487/513,y/524/529,t/557/565}
\G{K13}{13}{Os11g06770}{438}{562}{b/452/464,c/487/513,y/523/528}
\G{K14}{14}{AT5G50080}{460}{546}{c/487/513,y/523/528}
\G{K15}{15}{AT5G64750}{418}{570}{b/442/454,c/488/514}
\G{K16}{16}{AT1G43160}{466}{541}{c/488/514}
\G{K17}{17}{PH01002648G0300}{480}{548}{c/488/514}
\G{K18}{18}{Os02g34260}{452}{537}{b/452/464,c/487/513}
\G{K19}{19}{Os02g34270}{453}{537}{b/453/465,c/487/513}
\G{K20}{20}{Os04g34970}{465}{560}{b/466/477,c/487/513,y/525/530}
\jn{trg}{Kj1}{352}{K0}{K1}
\jn{trg}{Kj2}{349}{Kj1}{K2}
\jn{trg}{Kj3}{352}{K3}{K4}
\jn{trg}{Kj4}{346}{Kj2}{Kj3}
\jn{trg}{Kj5}{352}{K5}{K6}
\jn{trg}{Kj6}{349}{Kj5}{K7}
\jn{trg}{Kj7}{342}{Kj4}{Kj6}
\jn{trg}{Kj8}{339}{Kj7}{K8}
\jn{trg}{Kj9}{352}{K11}{K12}
\jn{trg}{Kj10}{349}{K10}{Kj9}
\jn{trg}{Kj11}{346}{K9}{Kj10}
\jn{trg}{Kj12}{342}{Kj11}{K13}
\jn{trg}{Kj13}{352}{K14}{K15}
\jn{trg}{Kj14}{339}{Kj12}{Kj13}
\jn{trg}{Kj15}{335}{Kj14}{K16}
\jn{trg}{Kj16}{352}{K18}{K19}
\jn{trg}{Kj17}{349}{K17}{Kj16}
\jn{trg}{Kj18}{343}{Kj17}{K20}
\jn{trg}{Kj19}{331}{Kj15}{Kj18}
\jn{trg}{Kr}{324}{Kj8}{Kj19}
\stub{trg}{Kr}{321}{Krs}
\draw[brk] (588,1348) -- (588,1433); \node[bbox] (Kb) at (588,1390.5) {b};
\draw[brk] (591,1444) -- (591,1567); \node[bbox] (Ka) at (591,1505.5) {a};
\legd{Kl1}{354}{1574}{cC}{CMPeX-1}\legd{Kl2}{394}{1574}{cB}{CMPeX-2}\legd{Kl3}{433}{1574}{cR}{CMPeX-3}\legd{Kl4}{467}{1574}{cM}{CMPeX-4}
\legd{Kl5}{354}{1584}{cY}{CMPeX-5}\legd{Kl6}{394}{1584}{cG}{CMPeX-6}\legd{Kl7}{433}{1584}{cT}{CMPeX-7}
\end{tikzpicture}
\end{document}
